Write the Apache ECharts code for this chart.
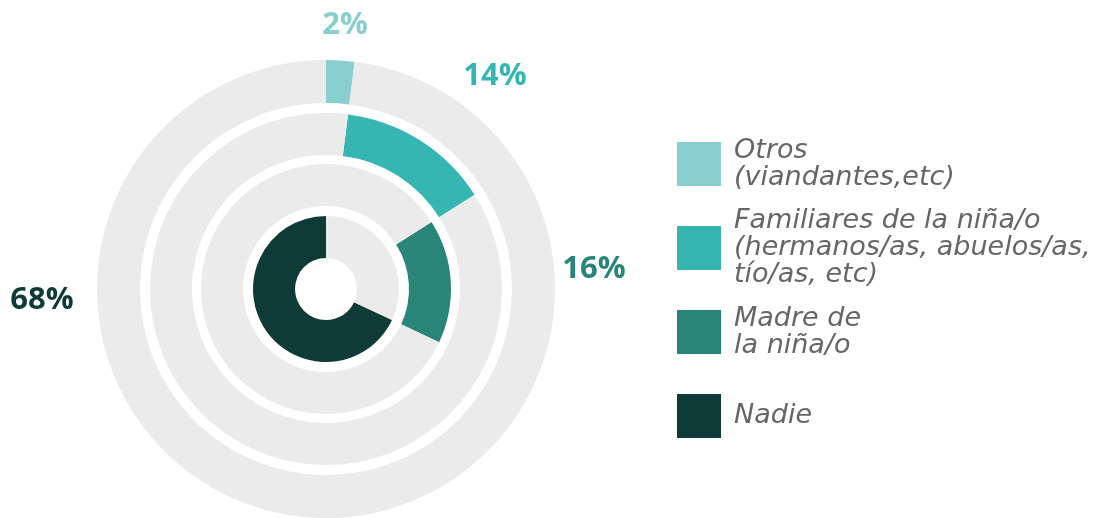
<!DOCTYPE html>
<html>
<head>
<meta charset="utf-8">
<script src="https://cdn.jsdelivr.net/npm/echarts@6/dist/echarts.min.js"></script>
<style>
html, body { margin: 0; padding: 0; background: #ffffff; }
#chart { width: 1097px; height: 518px; }
</style>
</head>
<body>
<div id="chart"></div>
<script>
// datos: quién acompaña a la niña/o
var categories = [
    'Otros\n(viandantes,etc)',
    'Familiares de la niña/o\n(hermanos/as, abuelos/as,\ntío/as, etc)',
    'Madre de\nla niña/o',
    'Nadie'
];
var values = [2, 14, 16, 68];
var colors = ['#8acfcf', '#36b6b2', '#288577', '#0e3b37'];

// anillos de fuera hacia dentro
var ringRadius = [[186, 229], [134, 176], [83, 125], [31, 73]];
var labelPos = [[345, 25], [495, 76], [594, 269], [42, 300]];

var myChart = echarts.init(document.getElementById('chart'));
var series = [];
var before = 0;
categories.forEach(function(name, i) {
    var pos = labelPos[i];
    series.push({
        type: 'pie',
        silent: true,
        center: [326, 289],
        radius: ringRadius[i],
        startAngle: 90 - before * 3.6,
        clockwise: true,
        avoidLabelOverlap: false,
        label: { show: false },
        labelLine: { show: false },
        labelLayout: function() {
            return { x: pos[0], y: pos[1], align: 'center', verticalAlign: 'middle' };
        },
        data: [{
            name: name,
            value: values[i],
            itemStyle: { color: colors[i] },
            label: {
                show: true,
                position: 'outside',
                formatter: '{c}%',
                color: colors[i],
                fontFamily: 'Open Sans',
                fontWeight: 'bold',
                fontSize: 31
            }
        }, {
            name: 'resto' + i,
            value: 100 - values[i],
            itemStyle: { color: '#ebebeb' }
        }]
    });
    before += values[i];
});

var option = {
    animation: false,
    legend: {
        orient: 'vertical',
        left: 672,
        top: 117,
        icon: 'rect',
        itemWidth: 44,
        itemHeight: 44,
        itemGap: 0,
        selectedMode: false,
        data: categories,
        textStyle: {
            fontFamily: '"DejaVu Sans ExtraLight", "DejaVu Sans"',
            fontStyle: 'italic',
            fontSize: 27,
            lineHeight: 27,
            height: 84,
            padding: [0, 0, 0, 8],
            color: '#666666'
        }
    },
    series: series
};
myChart.setOption(option);
</script>
</body>
</html>
